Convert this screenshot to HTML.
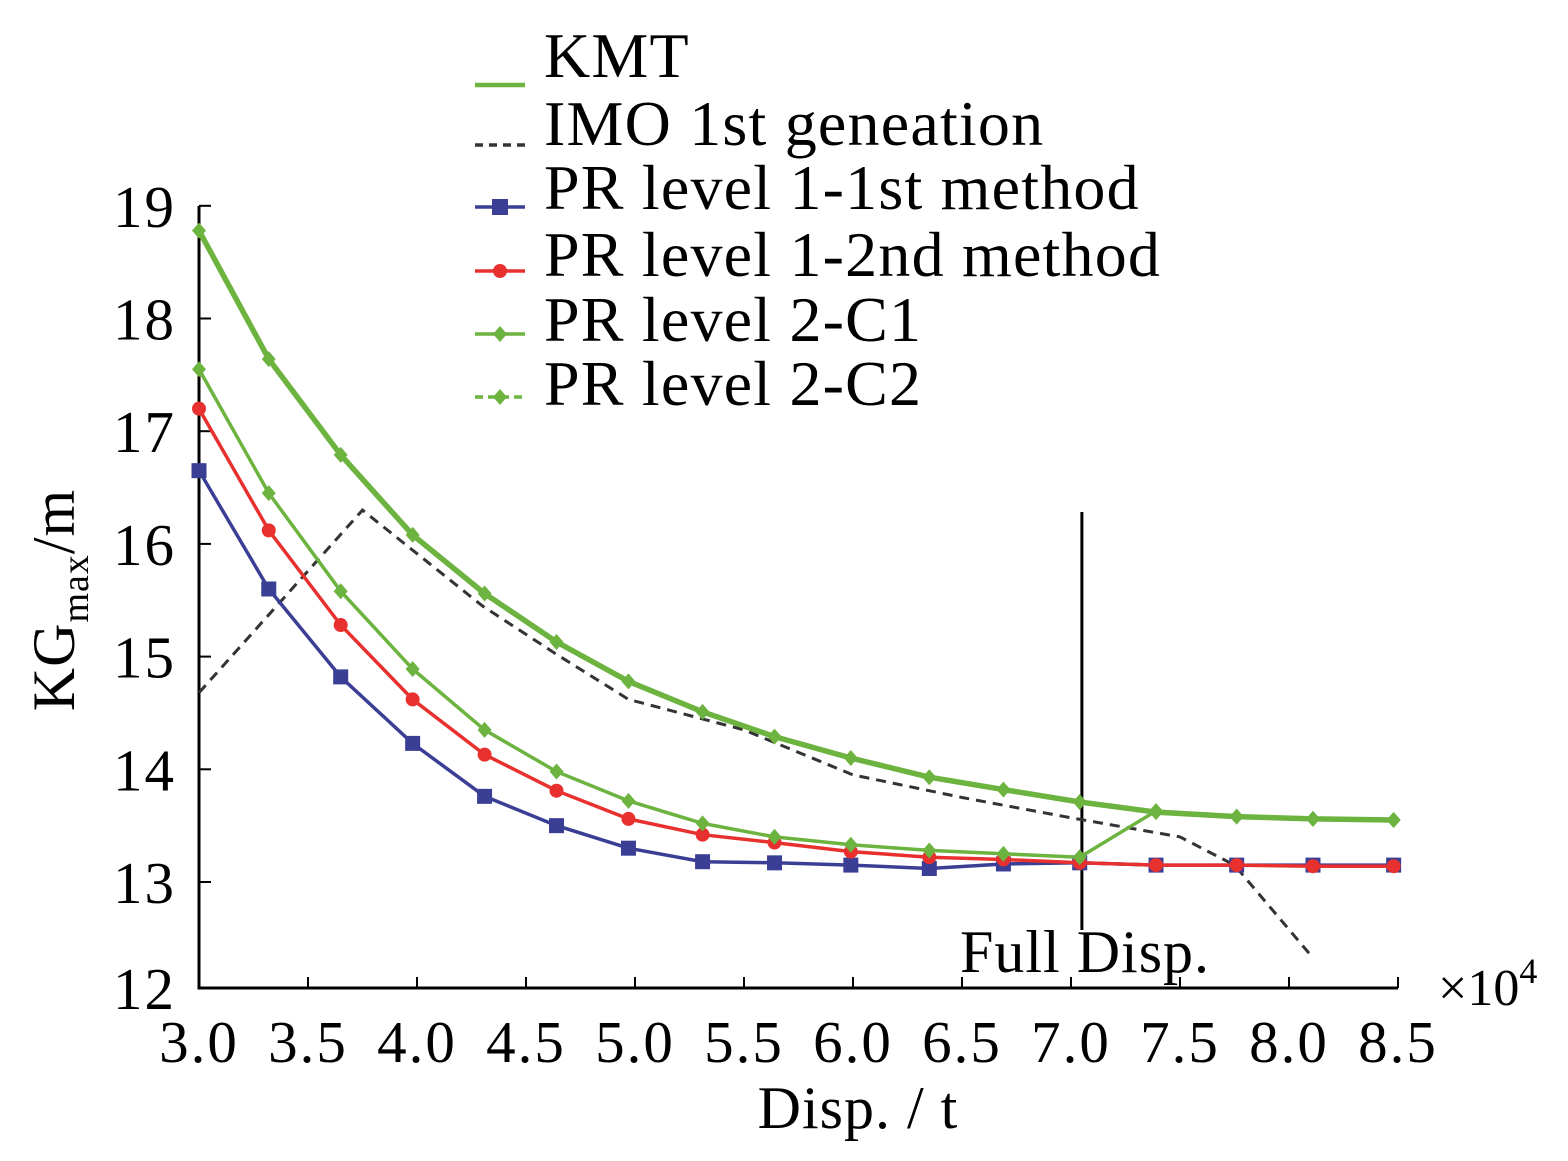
<!DOCTYPE html>
<html><head><meta charset="utf-8">
<style>
html,body{margin:0;padding:0;background:#fff;}
svg{display:block;font-family:"Liberation Serif","Times New Roman",serif;}
</style></head>
<body>
<svg id="chart" width="1568" height="1161" viewBox="0 0 1568 1161" xmlns="http://www.w3.org/2000/svg">
<g id="plot"></g>
<g id="legend"></g>
</svg>
<script>
const xTicks = [3.0,3.5,4.0,4.5,5.0,5.5,6.0,6.5,7.0,7.5,8.0,8.5];
const yTicks = [12,13,14,15,16,17,18,19];
const xPts = [3.0,3.32,3.65,3.98,4.31,4.64,4.97,5.31,5.64,5.99,6.35,6.69,7.04,7.39,7.76,8.11,8.48];
const kmt = [18.78,17.64,16.79,16.08,15.56,15.13,14.78,14.51,14.29,14.10,13.93,13.82,13.71,13.62,13.58,13.56,13.55];
const c2 = [18.78,17.64,16.79,16.08,15.56,15.13,14.78,14.51,14.29,14.10,13.93,13.82,13.71,13.62,13.58,13.56,13.55];
const c1 = [17.55,16.45,15.58,14.89,14.35,13.98,13.72,13.52,13.40,13.33,13.28,13.25,13.22,13.63,13.58,13.56,13.55];
const red = [17.2,16.12,15.28,14.62,14.13,13.81,13.56,13.42,13.35,13.27,13.22,13.20,13.17,13.15,13.15,13.14,13.14];
const blue = [16.65,15.6,14.82,14.23,13.76,13.5,13.3,13.18,13.17,13.15,13.12,13.16,13.17,13.15,13.15,13.15,13.15];
const imoX = [3.0,3.75,4.3,4.64,4.97,5.5,6.0,6.5,7.0,7.5,7.75,8.1];
const imoY = [14.68,16.3,15.45,15.02,14.62,14.35,13.95,13.75,13.57,13.4,13.15,12.35];
const fullDisp = 7.05;

const NS='http://www.w3.org/2000/svg';
const X = v => 199 + (v-3.0)*218;
const Y = v => 882 - (v-13)*112.7;
const plot=document.getElementById('plot');
const legend=document.getElementById('legend');
function mk(tag,attrs,parent){const e=document.createElementNS(NS,tag);for(const k in attrs)e.setAttribute(k,attrs[k]);parent.appendChild(e);return e;}

let ax=mk('path',{d:'M199 206 V988 H1398',fill:'none',stroke:'#000','stroke-width':3},plot);


xTicks.forEach(t=>{
  const tk=mk('line',{x1:X(t),x2:X(t),y1:988,y2:977,stroke:'#000','stroke-width':2},plot);
  
  
  const tx=mk('text',{x:X(t),y:1062,'font-size':59,'text-anchor':'middle','letter-spacing':2},plot);
  tx.textContent=t.toFixed(1);
  
  
});
yTicks.forEach(t=>{
  const yy = t===12?988:Y(t);
  const tk=mk('line',{x1:199,x2:211,y1:yy,y2:yy,stroke:'#000','stroke-width':2},plot);
  
  
  const tx=mk('text',{x:176,y:yy+21,'font-size':59,'text-anchor':'end','letter-spacing':2},plot);
  tx.textContent=t;
  
  
});
let xt=mk('text',{x:858,y:1128,'font-size':60,'text-anchor':'middle','letter-spacing':1},plot);
xt.textContent='Disp. / t';


let mult=mk('text',{x:1438,y:1005,'font-size':52},plot);
mult.innerHTML='×10<tspan dy="-22" font-size="36">4</tspan>';


let yt=mk('text',{transform:'translate(74,600) rotate(-90)','font-size':60,'text-anchor':'middle','letter-spacing':1},plot);
yt.innerHTML='KG<tspan font-size="38" dy="14">max</tspan><tspan dy="-14">/m</tspan>';



let fl=mk('line',{x1:X(fullDisp),x2:X(fullDisp),y1:512,y2:930,stroke:'#000','stroke-width':3},plot);


let ft=mk('text',{x:960,y:972,'font-size':60,'letter-spacing':1},plot);
ft.textContent='Full Disp.';



function line(xs,ys,color,w,dash,name){
  const d=xs.map((x,i)=>(i?'L':'M')+X(x).toFixed(1)+' '+Y(ys[i]).toFixed(1)).join(' ');
  const p=mk('path',{d:d,fill:'none',stroke:color,'stroke-width':w,'stroke-dasharray':dash||'none'},plot);
  
  
}
function marks(xs,ys,color,shape,name){
  xs.forEach((x,i)=>{
    const cx=X(x),cy=Y(ys[i]);let m;
    if(shape==='sq') m=mk('rect',{x:cx-7.5,y:cy-7.5,width:15,height:15,fill:color},plot);
    else if(shape==='c') m=mk('circle',{cx:cx,cy:cy,r:7,fill:color},plot);
    else m=mk('path',{d:`M${cx} ${cy-8}L${cx+7} ${cy}L${cx} ${cy+8}L${cx-7} ${cy}Z`,fill:color},plot);
    
    
  });
}
const G='#6cb33f';
line(imoX,imoY,'#333',3,'10 7','imo-line');
line(xPts,blue,'#3b3e95',3.5,null,'pr-level1-1st-line');
marks(xPts,blue,'#3b3e95','sq','pr-level1-1st-marker');
line(xPts,red,'#e8312f',3.5,null,'pr-level1-2nd-line');
marks(xPts,red,'#e8312f','c','pr-level1-2nd-marker');
line(xPts,c1,G,3.5,null,'pr-level2-c1-line');
marks(xPts,c1,G,'d','pr-level2-c1-marker');
line(xPts,kmt,G,5.5,null,'kmt-line');
line(xPts,c2,G,3,'10 6','pr-level2-c2-line');
marks(xPts,c2,G,'d','pr-level2-c2-marker');

const legNames=['KMT','IMO 1st geneation','PR level 1-1st method','PR level 1-2nd method','PR level 2-C1','PR level 2-C2'];
const legLineY=[85,145,207,271,334,397];
const legTextY=[77,145,209,276,341,405];
legNames.forEach((n,i)=>{
  const y=legLineY[i];
  let col=[G,'#333','#3b3e95','#e8312f',G,G][i];
  let dash=[null,'8 6',null,null,null,'8 5'][i];
  const l=mk('line',{x1:475,x2:525,y1:y,y2:y,stroke:col,'stroke-width':i===0?4.5:3.5,'stroke-dasharray':dash||'none'},legend);
  
  
  if(i>=2){let m;
    if(i===2) m=mk('rect',{x:492,y:y-8,width:16,height:16,fill:col},legend);
    else if(i===3) m=mk('circle',{cx:500,cy:y,r:7,fill:col},legend);
    else m=mk('path',{d:`M500 ${y-8}L507 ${y}L500 ${y+8}L493 ${y}Z`,fill:col},legend);
    
    
  }
  const t=mk('text',{x:544,y:legTextY[i],'font-size':64,'letter-spacing':1.2},legend);
  t.textContent=n;
  
  
});
</script>
</body></html>
